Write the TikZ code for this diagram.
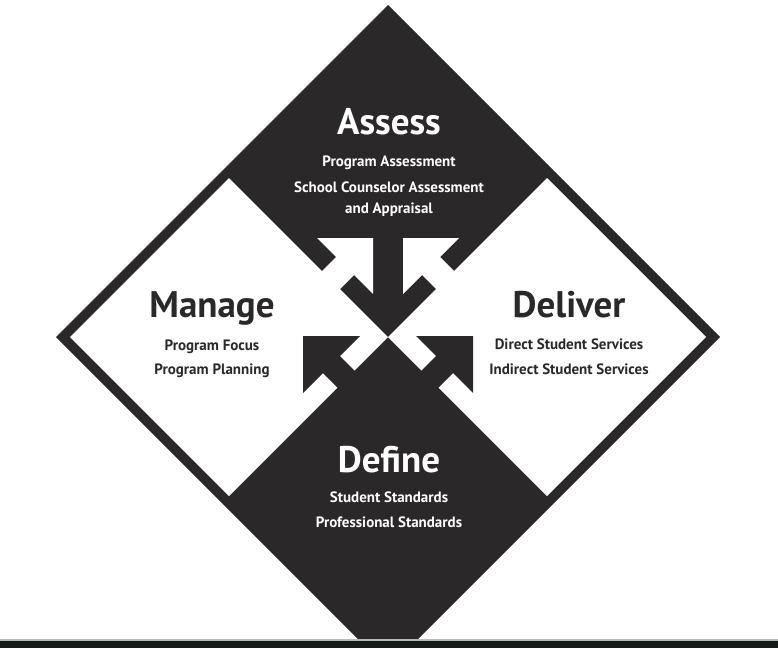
\documentclass[tikz,border=0pt]{standalone}
\usepackage{fontspec}
\setmainfont{PT Sans}
\definecolor{ink}{HTML}{2A2829}
\definecolor{barc}{HTML}{151A17}
\begin{document}
\begin{tikzpicture}[x=1pt,y=-1pt,
  title/.style={font=\fontsize{37}{40}\selectfont\bfseries, inner sep=0pt, anchor=base},
  item/.style={font=\fontsize{15}{17}\selectfont\bfseries, inner sep=0pt, anchor=base},
  onblack/.style={text=white},
  onwhite/.style={text=ink}]
\useasboundingbox (0,0) rectangle (778,648);
\fill[white] (0,0) rectangle (778,648);
% diamond
\begin{scope}
\clip (0,0) rectangle (778,640);
\fill[ink] (388,5) -- (720,337) -- (388,669) -- (56,337) -- cycle;
\end{scope}
% white side regions
\fill[white] (229,178) -- (388,337) -- (229,496) -- (70,337) -- cycle;
\fill[white] (547,178) -- (706,337) -- (547,496) -- (388,337) -- cycle;
% white arrows into Assess
\fill[white] (373,238) -- (317,238) -- (336,257) -- (321,272) -- (339,290) -- (354,275) -- (373,294) -- cycle;
\fill[white] (403,238) -- (459,238) -- (440,257) -- (455,272) -- (437,290) -- (422,275) -- (403,294) -- cycle;
% black arrows from Define
\fill[ink] (303,336) -- (360,336) -- (340,356) -- (355.5,371.5) -- (338.5,388.5) -- (323,373) -- (303,393) -- cycle;
\fill[ink] (473,336) -- (416,336) -- (436,356) -- (420.5,371.5) -- (437.5,388.5) -- (453,373) -- (473,393) -- cycle;
% bottom bar
\fill[gray!55] (0,638.5) rectangle (778,640.5);
\fill[barc] (0,640.5) rectangle (778,648);
% texts
\node[title,onblack] (assess) at (389,134) {Assess};
\node[item,onblack] (a1) at (389,166) {Program Assessment};
\node[item,onblack] (a2) at (389,192) {School Counselor Assessment};
\node[item,onblack] (a3) at (389,213) {and Appraisal};
\node[title,onwhite] (manage) at (212,317) {Manage};
\node[item,onwhite] (m1) at (212,350) {Program Focus};
\node[item,onwhite] (m2) at (212,374) {Program Planning};
\node[title,onwhite] (deliver) at (569,317) {Deliver};
\node[item,onwhite] (d1) at (569,349) {Direct Student Services};
\node[item,onwhite] (d2) at (569,374) {Indirect Student Services};
\node[title,onblack] (define) at (389,472) {Define};
\node[item,onblack] (f1) at (389,502) {Student Standards};
\node[item,onblack] (f2) at (389,527) {Professional Standards};
\end{tikzpicture}
\end{document}
